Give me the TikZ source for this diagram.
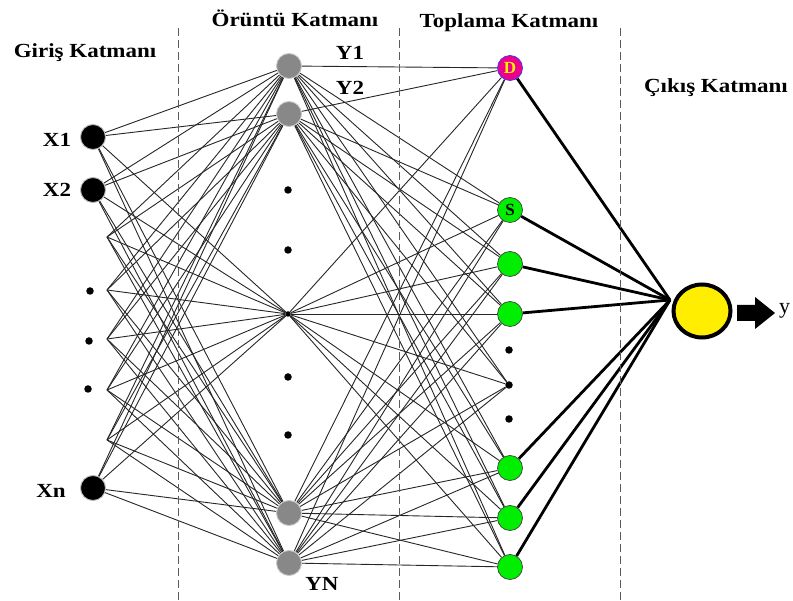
\documentclass[tikz,border=0pt]{standalone}
\usepackage{fontspec}
\usepackage{graphicx}
\usetikzlibrary{shapes.geometric}
\setmainfont{Liberation Serif}
\newcommand\widetxt[1]{\scalebox{1.15}[1]{#1}}
\pgfdeclarelayer{bg}
\pgfsetlayers{bg,main}
\definecolor{patgray}{RGB}{136,136,136}
\definecolor{sumgreen}{RGB}{0,238,0}
\definecolor{outyellow}{RGB}{255,238,0}
\definecolor{sepgray}{RGB}{90,90,90}
\begin{document}
\begin{tikzpicture}[x=1pt,y=-1pt,
  inpnode/.style={circle, fill=black, draw=gray!55, line width=0.9pt, minimum size=25pt, inner sep=0pt},
  patnode/.style={circle, fill=patgray, draw=gray!45, line width=0.9pt, minimum size=25pt, inner sep=0pt},
  sumnode/.style={circle, fill=sumgreen, draw=black!75, line width=0.7pt, minimum size=25pt, inner sep=0pt,
    font=\bfseries\fontsize{17}{17}\selectfont},
  dotnode/.style={circle, fill=black, minimum size=7.5pt, inner sep=0pt},
  link/.style={line width=0.9pt, black!85},
  outlink/.style={line width=2.8pt, black},
  sep/.style={sepgray, dashed, dash pattern=on 8pt off 4pt, line width=0.9pt},
  lbl/.style={font=\bfseries\fontsize{20}{20}\selectfont, anchor=base, inner sep=0pt}
]
\useasboundingbox (0,0) rectangle (793,601);

% layer separators
\draw[sep] (178,28) -- (178,601);
\draw[sep] (399,28) -- (399,601);
\draw[sep] (620,28) -- (620,601);

% layer titles
\node[lbl] (tin)  at (85,58)  {\widetxt{Giriş Katmanı}};
\node[lbl] (tpat) at (295,27) {\widetxt{Örüntü Katmanı}};
\node[lbl] (tsum) at (509,28) {\widetxt{Toplama Katmanı}};
\node[lbl] (tout) at (716,93) {\widetxt{Çıkış Katmanı}};

% input layer
\node[inpnode] (x1) at (93,137) {};
\node[inpnode] (x2) at (93,190) {};
\node[inpnode] (xn) at (93,488) {};
\node[dotnode] (id1) at (90,291) {};
\node[dotnode] (id2) at (89,341) {};
\node[dotnode] (id3) at (88,389) {};
\coordinate (xa) at (107,237);
\coordinate (xb) at (107,290);
\coordinate (xc) at (107,339);
\coordinate (xd) at (107,390);
\coordinate (xe) at (107,440);
\node[lbl] (lx1) at (57,147) {\widetxt{X1}};
\node[lbl] (lx2) at (57,197) {\widetxt{X2}};
\node[lbl] (lxn) at (51,497) {\widetxt{Xn}};

% pattern layer
\node[patnode] (y1) at (289,66) {};
\node[patnode] (y2) at (289,114) {};
\node[patnode] (y4) at (289,513) {};
\node[patnode] (yn) at (289,563) {};
\node[circle, fill=black, minimum size=5.5pt, inner sep=0pt] (yc) at (288,314) {};
\node[dotnode] (pd1) at (288,190) {};
\node[dotnode] (pd2) at (288,250) {};
\node[dotnode] (pd3) at (288,377) {};
\node[dotnode] (pd4) at (288,435) {};
\node[lbl] (ly1) at (350,60) {\widetxt{Y1}};
\node[lbl] (ly2) at (350,95) {\widetxt{Y2}};
\node[lbl] (lyn) at (322,590) {\widetxt{YN}};

% summation layer
\node[sumnode, fill=magenta, draw=blue!80, text=yellow] (sD) at (510,68) {D};
\node[sumnode] (sS) at (510,210) {S};
\node[sumnode] (s3) at (510,264) {};
\node[sumnode] (s4) at (510,314) {};
\node[sumnode] (s6) at (510,468) {};
\node[sumnode] (s7) at (510,518) {};
\node[sumnode] (s8) at (510,567) {};
\node[dotnode] (sd1) at (509,350) {};
\node[dotnode] (sdot) at (509,385) {};
\node[dotnode] (sd3) at (509,419) {};

% output layer
\node[ellipse, fill=outyellow, draw=black, line width=4pt, minimum width=57pt, minimum height=53pt, inner sep=0pt] (out) at (702,311) {};
\coordinate (oin) at (670,300);
\coordinate (a1) at (737,305);
\coordinate (a2) at (755,305);
\coordinate (a3) at (755,297);
\coordinate (a4) at (775,313);
\coordinate (a5) at (755,329);
\coordinate (a6) at (755,321);
\coordinate (a7) at (737,321);
\fill[black] (a1) -- (a2) -- (a3) -- (a4) -- (a5) -- (a6) -- (a7) -- cycle;
\node[font=\fontsize{22}{22}\selectfont, anchor=west, inner sep=0pt] (ylab) at (779,311) {y};

% connections
\begin{pgfonlayer}{bg}
\foreach \a in {x1,x2,xa,xb,xc,xd,xe,xn}
  \foreach \b in {y1,y2,yc,y4,yn}
    \draw[link] (\a) -- (\b);
\foreach \a in {y1,y2,yc,y4,yn}
  \foreach \b in {sD,sS,s3,s4,sdot,s6,s7,s8}
    \draw[link] (\a) -- (\b);
\foreach \a in {sD,sS,s3,s4,s6,s7,s8}
  \draw[outlink] (\a) -- (oin);
\end{pgfonlayer}
\end{tikzpicture}
\end{document}
